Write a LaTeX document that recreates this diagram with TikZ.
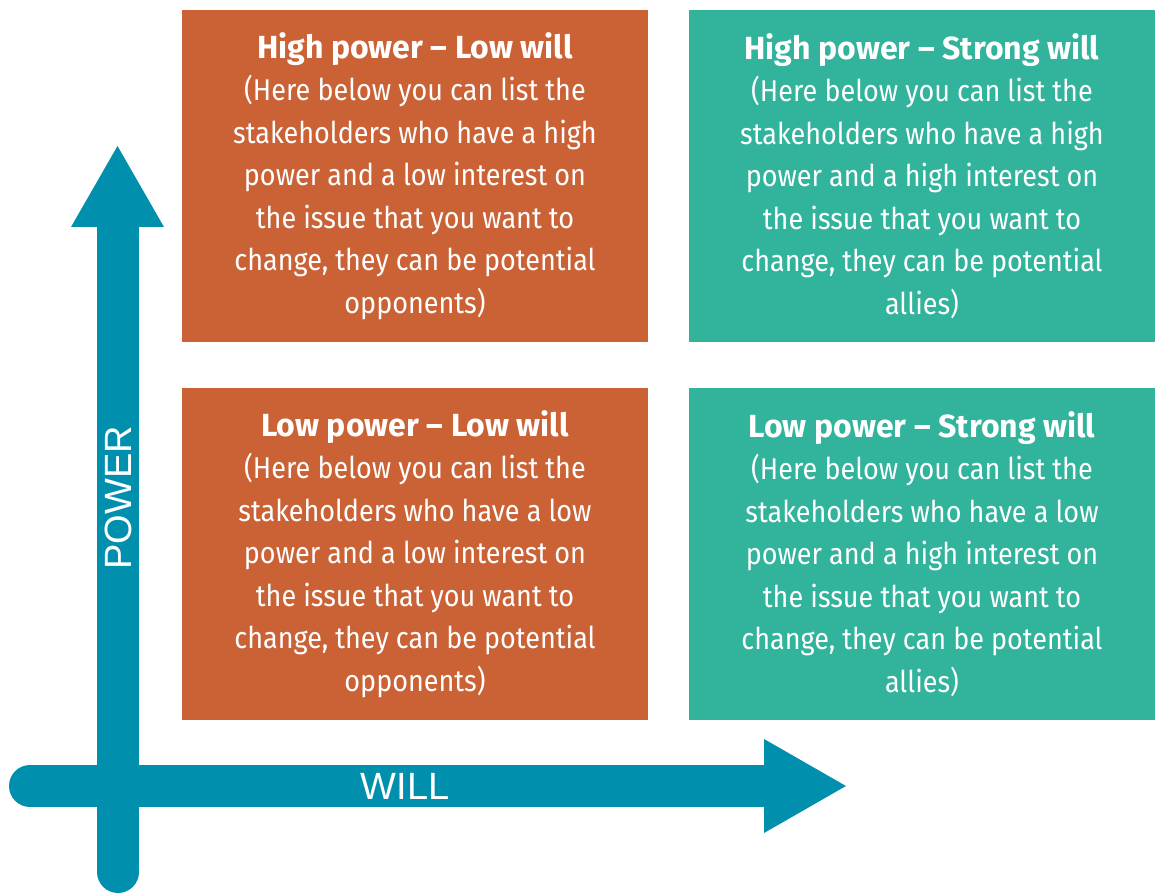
\documentclass[tikz,border=0pt]{standalone}
\usepackage{fontspec}
\setmainfont{Fira Sans}[FakeStretch=0.90]
\newfontfamily\titlefont{Fira Sans}
\newfontfamily\axisfont{Liberation Sans}
\newcommand{\qtitle}[1]{{\titlefont\bfseries\fontsize{32}{42.5}\selectfont #1}}
\definecolor{boxorange}{RGB}{203,98,54}
\definecolor{boxteal}{RGB}{49,179,156}
\definecolor{axisblue}{RGB}{0,143,173}
\begin{document}
\begin{tikzpicture}[x=1pt,y=-1pt,
  quad/.style={rectangle, inner sep=0pt, minimum width=466pt, minimum height=332pt,
    text=white, align=center, font=\fontsize{30}{42.5}\selectfont},
  orangequad/.style={quad, fill=boxorange},
  tealquad/.style={quad, fill=boxteal},
  axislabel/.style={text=white, font=\axisfont\fontsize{38}{40}\selectfont, inner sep=0pt}]
\useasboundingbox (0,0) rectangle (1160,893);
% axes
\coordinate (vbot) at (118,872);
\coordinate (vtop) at (118,228);
\coordinate (hleft) at (30,786);
\coordinate (hright) at (765,786);
\draw[axisblue, line width=42pt, line cap=round] (vbot) -- (vtop);
\draw[axisblue, line width=42pt, line cap=round] (hleft) -- (hright);
\fill[axisblue] (71,227) -- (164,227) -- (117.5,146) -- cycle;
\fill[axisblue] (764,739) -- (764,833) -- (846,786) -- cycle;
\node[axislabel] (willlabel) at (405,786) {WILL};
\node[axislabel, rotate=90] (powerlabel) at (118,498) {POWER};
% quadrants
\node[orangequad] (hl) at (415,176) {\qtitle{High power – Low will}\\(Here below you can list the\\stakeholders who have a high\\power and a low interest on\\the issue that you want to\\change, they can be potential\\opponents)};
\node[tealquad] (hs) at (922,176) {\qtitle{High power – Strong will}\\(Here below you can list the\\stakeholders who have a high\\power and a high interest on\\the issue that you want to\\change, they can be potential\\allies)};
\node[orangequad] (ll) at (415,554) {\qtitle{Low power – Low will}\\(Here below you can list the\\stakeholders who have a low\\power and a low interest on\\the issue that you want to\\change, they can be potential\\opponents)};
\node[tealquad] (ls) at (922,554) {\qtitle{Low power – Strong will}\\(Here below you can list the\\stakeholders who have a low\\power and a high interest on\\the issue that you want to\\change, they can be potential\\allies)};
\end{tikzpicture}
\end{document}
